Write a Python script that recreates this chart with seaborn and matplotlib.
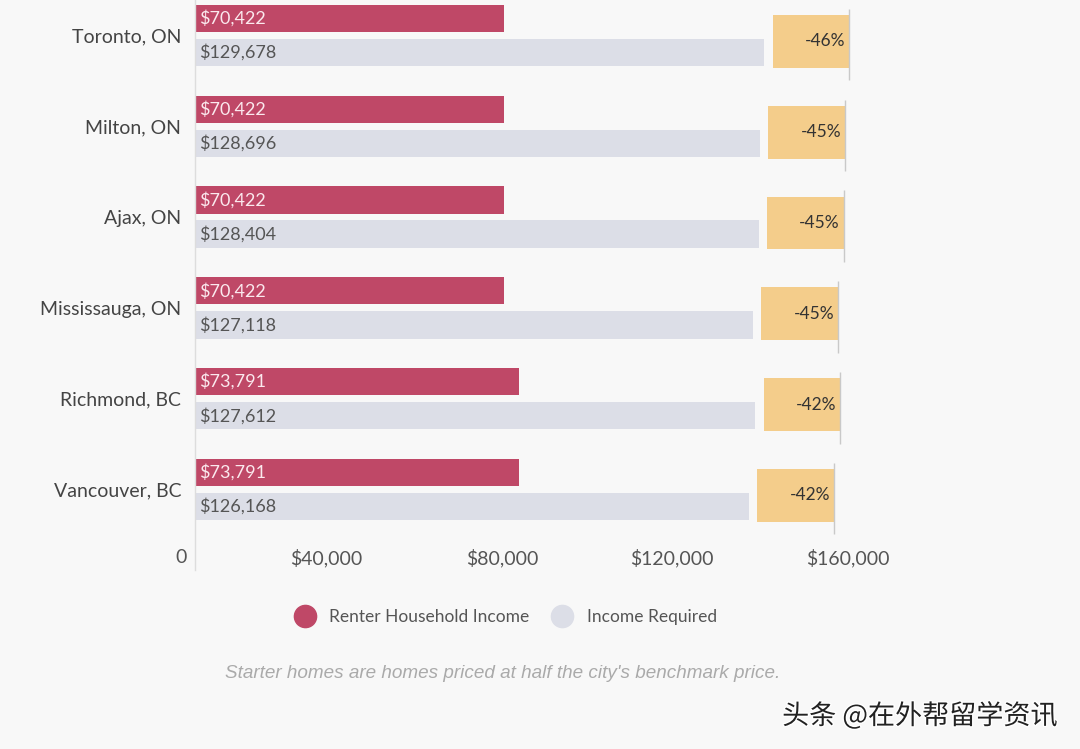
import pandas as pd
import matplotlib.pyplot as plt
import matplotlib.transforms as mtransforms
import matplotlib.patheffects as pe
from matplotlib.lines import Line2D
import seaborn as sns

# data
cities = ['Toronto, ON', 'Milton, ON', 'Ajax, ON', 'Mississauga, ON', 'Richmond, BC', 'Vancouver, BC']
renter_income = [70422, 70422, 70422, 70422, 73791, 73791]
income_required = [129678, 128696, 128404, 127118, 127612, 126168]
gap_pct = ['-46%', '-45%', '-45%', '-45%', '-42%', '-42%']
x_ticks = [0, 40000, 80000, 120000, 160000]
x_tick_labels = ['0', '$40,000', '$80,000', '$120,000', '$160,000']

RED = '#bf4867'
GRAY = '#dcdee7'
ORANGE = '#f4cd8b'
BG = '#f8f8f8'

df = pd.DataFrame({
    'City': cities * 2,
    'Income': renter_income + income_required,
    'Series': ['Renter Household Income'] * len(cities) + ['Income Required'] * len(cities),
})

sns.set_theme(style='white')
plt.rcParams['font.family'] = ['Lato', 'DejaVu Sans']

fig = plt.figure(figsize=(10.8, 7.49), dpi=100, facecolor=BG)
ax = fig.add_axes([195 / 1080, 179 / 749, 878 / 1080, 570 / 749])
ax.set_facecolor(BG)

sns.barplot(data=df, y='City', x='Income', hue='Series', orient='h',
            palette=[RED, GRAY], saturation=1, width=0.75, gap=0.2,
            linewidth=0, edgecolor='none', legend=False, ax=ax)

ax.set_xlim(0, 200000)
ax.set_ylim(5.887, -0.391)

# value labels inside the bars
for container, color in zip(ax.containers, ['#fbe9ee', '#555555']):
    for bar in container:
        val = bar.get_width()
        ax.text(1000, bar.get_y() + bar.get_height() / 2, f'${val:,.0f}',
                va='center', ha='left', fontsize=13, color=color)

# orange gap boxes after the required-income bar
for i, (req, pct) in enumerate(zip(income_required, gap_pct)):
    left = req + 1900
    ax.barh(i + 0.065, 17500, left=left, height=0.58, color=ORANGE, linewidth=0, zorder=2)
    ax.vlines(left + 17500, i + 0.065 - 0.36, i + 0.065 + 0.43, color='#c9c9c9', lw=1, zorder=3)
    ax.text(left + 17500 - 900, i + 0.065, pct, ha='right', va='center',
            fontsize=12.5, color='#333333', zorder=4)

for s in ['top', 'right', 'bottom']:
    ax.spines[s].set_visible(False)
ax.spines['left'].set_color('#dddddd')
ax.spines['left'].set_linewidth(1)

ax.set_xlabel('')
ax.set_ylabel('')
ax.set_xticks(x_ticks)
ax.set_xticklabels(x_tick_labels)
ax.tick_params(axis='x', length=0, pad=-15, labelsize=14, labelcolor='#555555')
ax.tick_params(axis='y', length=0, pad=10, labelsize=14, labelcolor='#444444')
shift = mtransforms.ScaledTranslation(-8 / 100, 0, fig.dpi_scale_trans)
for lab in ax.get_xticklabels():
    lab.set_horizontalalignment('right')
    lab.set_transform(lab.get_transform() + shift)

# legend
handles = [Line2D([], [], marker='o', ls='', markersize=16, color=RED),
           Line2D([], [], marker='o', ls='', markersize=16, color=GRAY)]
fig.legend(handles, ['Renter Household Income', 'Income Required'], ncol=2,
           loc='center', bbox_to_anchor=(502 / 1080, 1 - 617 / 749), frameon=False,
           fontsize=12.5, labelcolor='#555555', handletextpad=0.4, columnspacing=0.9)

fig.text(503 / 1080, 1 - 673 / 749,
         "Starter homes are homes priced at half the city's benchmark price.",
         ha='center', va='center', fontsize=13.6, style='italic',
         color='#aaaaaa', family=['Liberation Sans', 'DejaVu Sans'])

fig.text(1058 / 1080, 1 - 716 / 749, '头条 @在外帮留学资讯', ha='right', va='center',
         fontsize=19.5, color='#222222', family=['Noto Sans CJK SC', 'DejaVu Sans'],
         path_effects=[pe.withStroke(linewidth=2, foreground='white')])

fig.savefig('out.png', dpi=100, facecolor=BG)
